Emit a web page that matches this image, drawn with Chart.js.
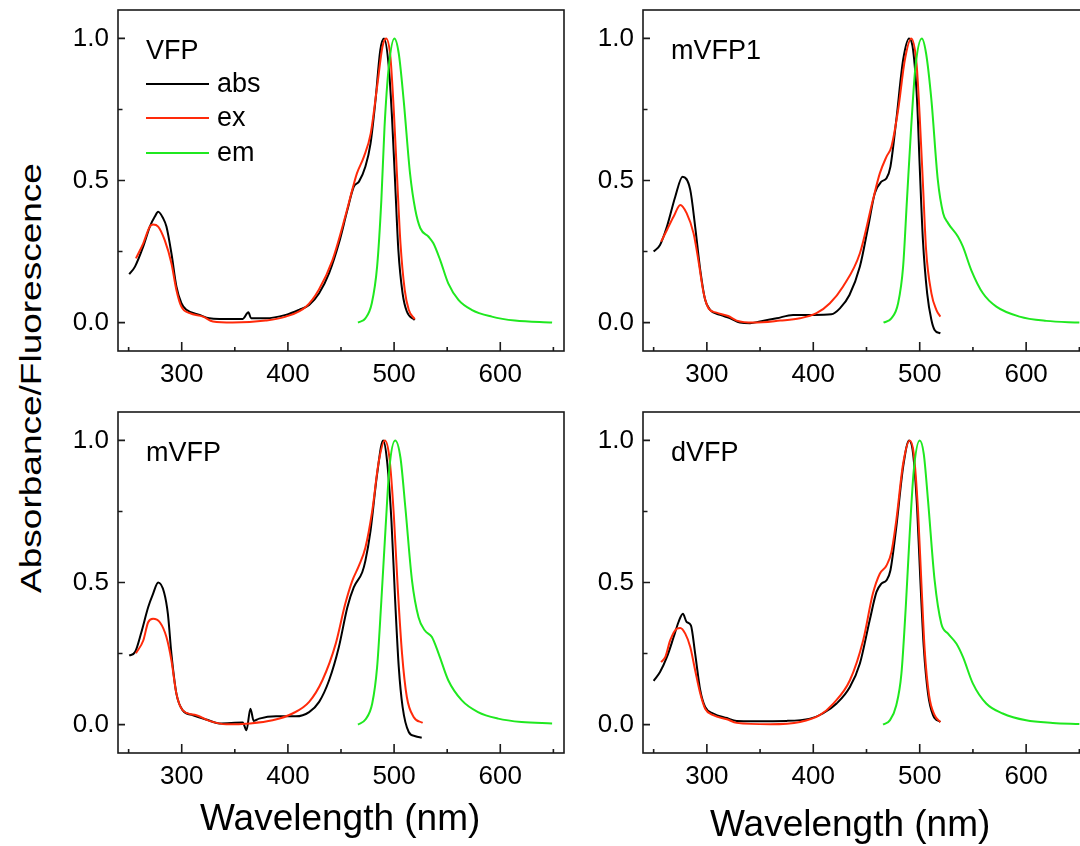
<!DOCTYPE html>
<html>
<head>
<meta charset="utf-8">
<script src="https://cdn.jsdelivr.net/npm/chart.js@4.4.1/dist/chart.umd.min.js"></script>
<style>
  html, body { margin: 0; padding: 0; background: #fff; width: 1080px; height: 846px; overflow: hidden; position: relative; }
  canvas { position: absolute; }
  .title { position: absolute; font-family: "Liberation Sans", Arial, sans-serif; color: #000; white-space: nowrap; }
  #yTitle {
    left: 31px; top: 378px; font-size: 37px;
    transform: translate(-50%, -50%) rotate(-90deg) scaleY(0.8);
  }
  .xTitle { font-size: 37px; line-height: 37px; }
</style>
</head>
<body>
<div id="yTitle" class="title">Absorbance/Fluorescence</div>
<canvas id="p1" width="540" height="400" style="left:40px;top:0"></canvas>
<canvas id="p2" width="535" height="400" style="left:565px;top:0"></canvas>
<canvas id="p3" width="540" height="446" style="left:40px;top:400px"></canvas>
<canvas id="p4" width="535" height="446" style="left:565px;top:400px"></canvas>
<div class="title xTitle" style="left:200px;top:799px">Wavelength (nm)</div>
<div class="title xTitle" style="left:710px;top:805px">Wavelength (nm)</div>
<script>
// ---------------------------------------------------------------------------
// spectra: [wavelength nm, normalised value]
// ---------------------------------------------------------------------------
const vfpAbs = [[250.6,0.17],[256,0.197],[263.7,0.267],[270,0.338],[274.7,0.373],[277.8,0.39],[282.5,0.367],[285.6,0.338],[290.3,0.244],[295,0.127],[299.7,0.068],[304.4,0.045],[316.9,0.027],[326,0.015],[335.6,0.013],[357.5,0.013],[362.8,0.036],[365.3,0.015],[379,0.015],[398,0.027],[410.6,0.045],[420,0.062],[429.4,0.103],[438.8,0.174],[448,0.279],[456,0.396],[462,0.478],[466.9,0.496],[473,0.549],[477.8,0.63],[482.5,0.783],[487,0.959],[490.5,1.0],[495,0.9],[498,0.724],[501,0.49],[504,0.256],[508,0.103],[512,0.039],[519.4,0.009]];
const vfpEx = [[256.9,0.226],[263.8,0.279],[270,0.338],[273,0.345],[277.8,0.338],[284,0.29],[290.3,0.209],[295,0.115],[299.7,0.056],[307.5,0.033],[320,0.021],[329.4,0.004],[348,0],[379,0.007],[398,0.021],[417,0.056],[429,0.115],[442,0.22],[454,0.373],[460.6,0.467],[465,0.525],[471.6,0.584],[478,0.666],[484,0.83],[489,0.97],[492.5,1.0],[496.5,0.936],[499.7,0.748],[502.8,0.513],[506,0.279],[510,0.115],[513.8,0.045],[519.4,0.012]];
const vfpEm = [[466,0],[473,0.015],[479,0.068],[484,0.197],[488,0.431],[491,0.689],[495,0.9],[500.3,1.0],[504.4,0.947],[509,0.783],[515,0.525],[520,0.396],[524.7,0.332],[532.5,0.302],[537,0.279],[543.4,0.22],[551,0.138],[560.6,0.08],[573,0.045],[592,0.021],[613.7,0.007],[648.8,0]];

const mvfp1Abs = [[250,0.25],[256,0.273],[262.5,0.338],[270.3,0.443],[277.2,0.513],[284.4,0.467],[289,0.338],[293.8,0.185],[298.4,0.08],[303,0.045],[312.5,0.027],[322,0.015],[331,0],[340.6,-0.002],[350,0.004],[365.6,0.015],[381,0.027],[400,0.027],[417,0.029],[425,0.05],[434,0.097],[443.8,0.197],[451.6,0.338],[457.8,0.455],[464,0.496],[468.8,0.508],[472.5,0.549],[478,0.713],[484.4,0.924],[490,1.0],[493.8,0.959],[497.5,0.783],[500,0.549],[503,0.291],[507,0.103],[511,0.009],[514,-0.026],[519.4,-0.038]];
const mvfp1Ex = [[257,0.285],[262.5,0.326],[268.8,0.373],[275,0.414],[281,0.385],[287.5,0.314],[292,0.22],[297,0.103],[301.6,0.05],[309,0.035],[320,0.023],[328,0.007],[343.8,0],[368.8,0.007],[387.5,0.015],[403,0.033],[415.6,0.068],[428,0.127],[443.8,0.244],[456,0.431],[462.5,0.525],[468.8,0.584],[473.4,0.619],[479.7,0.748],[486,0.924],[492,1.0],[497,0.912],[500,0.724],[503,0.49],[506,0.256],[511,0.103],[515.6,0.045],[519.4,0.021]];
const mvfp1Em = [[466,0],[473.4,0.015],[479.7,0.068],[484.4,0.197],[488,0.431],[492,0.689],[496,0.9],[502,1.0],[506,0.947],[511,0.783],[517,0.502],[522,0.385],[526.6,0.35],[536,0.302],[540.6,0.267],[548.4,0.185],[559.4,0.103],[572,0.056],[593.8,0.021],[618.8,0.006],[650,0]];

const mvfpAbs = [[250.6,0.243],[256,0.255],[262,0.325],[268.4,0.413],[273,0.46],[277.8,0.5],[283.4,0.465],[287,0.389],[290.3,0.249],[295,0.109],[301,0.05],[310.6,0.033],[323,0.018],[335.6,0.004],[357.5,0.007],[361,-0.02],[364.7,0.056],[367.8,0.013],[373,0.021],[388.8,0.029],[407.5,0.029],[420,0.044],[429.4,0.08],[438.8,0.156],[448,0.273],[456,0.413],[462,0.483],[470,0.536],[473,0.577],[477.8,0.682],[484,0.881],[489.7,1.0],[493.4,0.927],[497.5,0.717],[501,0.436],[504.4,0.202],[508,0.062],[513.8,-0.026],[520,-0.041],[526,-0.046]];
const mvfpEx = [[256.9,0.251],[263.8,0.296],[268.4,0.36],[273,0.372],[279.4,0.36],[285.6,0.308],[290.3,0.226],[295,0.109],[301,0.05],[313.8,0.033],[326,0.013],[342,0.001],[363.8,0.004],[385.6,0.015],[404.4,0.039],[420,0.08],[432.5,0.156],[445,0.284],[454,0.425],[460.6,0.506],[466.9,0.559],[473,0.623],[479.4,0.752],[485.6,0.927],[491.3,1.0],[495.6,0.939],[499.7,0.74],[503.4,0.483],[507.5,0.249],[512,0.097],[518.4,0.027],[526.9,0.006]];
const mvfpEm = [[466,0],[473,0.018],[479.4,0.074],[484,0.202],[488,0.436],[492,0.694],[495.6,0.904],[501,1.0],[506,0.939],[510.6,0.764],[516.9,0.506],[523,0.378],[529,0.331],[535.6,0.308],[542,0.249],[551,0.156],[563.8,0.085],[579,0.044],[598,0.021],[620,0.009],[648.8,0.004]];

const dvfpAbs = [[250,0.154],[256,0.185],[262.5,0.238],[268.8,0.308],[273.4,0.361],[277.5,0.39],[281,0.361],[285,0.349],[289,0.25],[293.8,0.121],[298.4,0.062],[306,0.039],[318.8,0.023],[328,0.013],[343.8,0.012],[375,0.013],[397,0.021],[409,0.039],[421.9,0.074],[434.4,0.132],[443.8,0.215],[453,0.367],[459.4,0.467],[464,0.496],[468.8,0.508],[472.5,0.543],[478,0.695],[484.4,0.906],[490,1.0],[493.8,0.953],[497.5,0.766],[500.6,0.508],[503.8,0.273],[507.8,0.109],[512.5,0.033],[519.4,0.009]];
const dvfpEx = [[257,0.22],[261,0.238],[265.6,0.297],[271.9,0.338],[275,0.34],[279.7,0.32],[284.4,0.273],[289,0.191],[293.8,0.109],[298.4,0.056],[306,0.033],[318.8,0.019],[328,0.006],[359.4,0.001],[387.5,0.009],[406,0.033],[418.8,0.074],[434.4,0.156],[446.9,0.297],[456,0.461],[462.5,0.531],[468.8,0.56],[473.4,0.607],[478,0.719],[484.4,0.918],[490.6,1.0],[494.4,0.953],[498.4,0.754],[501.6,0.496],[504.7,0.261],[508.8,0.103],[514,0.033],[519.4,0.009]];
const dvfpEm = [[465.6,0],[471.9,0.015],[478,0.068],[482.8,0.179],[486.9,0.414],[490.6,0.672],[494.4,0.894],[500,1.0],[503.8,0.953],[507.8,0.789],[514,0.508],[520.3,0.355],[526.6,0.32],[534.4,0.285],[540.6,0.238],[550,0.144],[562.5,0.074],[578,0.039],[600,0.015],[625,0.006],[650,0.002]];

const panelNames   = ["VFP", "mVFP1", "mVFP", "dVFP"];
const seriesLabels = ["abs", "ex", "em"];
const seriesColors = ["#000000", "#ff2a0a", "#1fe81f"];
const xMajorTicks  = [300, 400, 500, 600];
const xMinorTicks  = [250, 350, 450, 550, 650];
const yMajorTicks  = [0, 0.5, 1.0];
const yMinorTicks  = [0.25, 0.75];

const FONT = '"Liberation Sans", Arial, sans-serif';
Chart.defaults.font.family = FONT;
Chart.defaults.color = "#000";

//-----------------------------------------------------------------------------
// frame round the plot area plus inward pointing tick marks
//-----------------------------------------------------------------------------
const frameTicks = {
    id: "frameTicks",
    afterDatasetsDraw(chart) {
        const { ctx, chartArea: a, scales: { x, y } } = chart;
        ctx.save();
        ctx.strokeStyle = "#1a1a1a";
        ctx.lineWidth = 1.6;
        ctx.beginPath();
        xMajorTicks.forEach(v => { const p = x.getPixelForValue(v); ctx.moveTo(p, a.bottom); ctx.lineTo(p, a.bottom - 9); });
        xMinorTicks.forEach(v => { const p = x.getPixelForValue(v); ctx.moveTo(p, a.bottom); ctx.lineTo(p, a.bottom - 4); });
        yMajorTicks.forEach(v => { const p = y.getPixelForValue(v); ctx.moveTo(a.left, p); ctx.lineTo(a.left + 7, p); });
        yMinorTicks.forEach(v => { const p = y.getPixelForValue(v); ctx.moveTo(a.left, p); ctx.lineTo(a.left + 4.5, p); });
        ctx.stroke();
        ctx.strokeRect(a.left, a.top, a.right - a.left, a.bottom - a.top);
        ctx.restore();
    }
};

// panel name and (first panel only) the legend, drawn inside the plot area
const panelText = {
    id: "panelText",
    afterDraw(chart, args, opts) {
        const { ctx, chartArea: a } = chart;
        ctx.save();
        ctx.fillStyle = "#000";
        ctx.font = `27px ${FONT}`;
        ctx.textBaseline = "alphabetic";
        ctx.fillText(opts.name, a.left + 28, a.top + 49);
        if (opts.legend) {
            ctx.textBaseline = "middle";
            const rows = [74, 108, 143];
            chart.data.datasets.forEach((ds, i) => {
                const yy = a.top + rows[i];
                ctx.strokeStyle = ds.borderColor;
                ctx.lineWidth = 2;
                ctx.beginPath();
                ctx.moveTo(a.left + 28, yy);
                ctx.lineTo(a.left + 91, yy);
                ctx.stroke();
                ctx.fillText(ds.label, a.left + 99, yy + 1);
            });
        }
        ctx.restore();
    }
};

function toPoints(pairs) {
    return pairs.map(p => ({ x: p[0], y: p[1] }));
}

function drawPanel(id, name, series, box) {
    const datasets = series.map((s, i) => ({
        label: seriesLabels[i],
        data: toPoints(s),
        borderColor: seriesColors[i],
        borderWidth: 2,
        pointRadius: 0,
        cubicInterpolationMode: "monotone",
        order: 3 - i
    }));

    new Chart(document.getElementById(id), {
        type: "line",
        data: { datasets },
        plugins: [frameTicks, panelText],
        options: {
            responsive: false,
            animation: false,
            layout: { padding: { top: box.top, right: box.right, left: 0, bottom: 0 } },
            plugins: {
                legend: { display: false },
                tooltip: { enabled: false },
                panelText: { name, legend: box.legend }
            },
            scales: {
                x: {
                    type: "linear",
                    min: 240,
                    max: 660,
                    grid: { display: false, drawTicks: false },
                    border: { display: false },
                    ticks: { stepSize: 100, includeBounds: false, padding: 8, font: { size: 26 }, color: "#000" },
                    afterFit: s => { s.height = box.xh; s.paddingLeft = 0; s.paddingRight = 0; }
                },
                y: {
                    min: -0.1,
                    max: 1.1,
                    grid: { display: false, drawTicks: false },
                    border: { display: false },
                    ticks: {
                        stepSize: 0.5,
                        includeBounds: false,
                        padding: 9,
                        font: { size: 26 },
                        color: "#000",
                        callback: v => v.toFixed(1)
                    },
                    afterFit: s => { s.width = 78; s.paddingTop = 0; s.paddingBottom = 0; }
                }
            }
        }
    });
}

drawPanel("p1", panelNames[0], [vfpAbs, vfpEx, vfpEm],       { top: 10, right: 16, xh: 49, legend: true });
drawPanel("p2", panelNames[1], [mvfp1Abs, mvfp1Ex, mvfp1Em], { top: 10, right: 10, xh: 49, legend: false });
drawPanel("p3", panelNames[2], [mvfpAbs, mvfpEx, mvfpEm],    { top: 12, right: 16, xh: 93, legend: false });
drawPanel("p4", panelNames[3], [dvfpAbs, dvfpEx, dvfpEm],    { top: 12, right: 10, xh: 93, legend: false });
</script>
</body>
</html>
